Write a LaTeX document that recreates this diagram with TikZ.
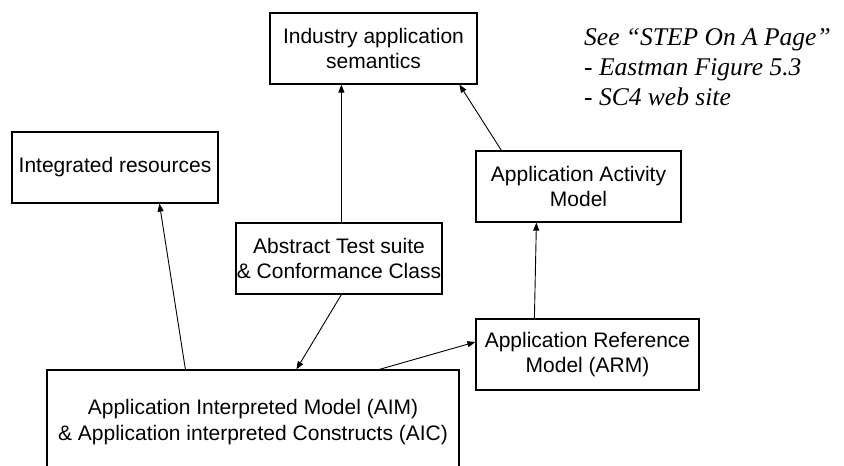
\documentclass[tikz,border=0pt]{standalone}
\usepackage{fontspec}
\setmainfont{Liberation Sans}
\newfontfamily\notefont{Liberation Serif}
\usetikzlibrary{arrows.meta,calc}

\begin{document}
\begin{tikzpicture}[x=1pt,y=-1pt,
box/.style={draw,line width=1.2pt,align=center,inner sep=0pt,
font=\fontsize{21}{25.5}\selectfont},
link/.style={line width=0.9pt,-{Triangle[length=8pt,width=6pt]}}]
\clip (0,0) rectangle (844,466);
\node[box,minimum width=207pt,minimum height=71pt] (ind) at (373.5,48.5) {Industry application\\semantics};
\node[box,minimum width=206pt,minimum height=71pt] (ir) at (115,167.5) {Integrated resources};
\node[box,minimum width=206pt,minimum height=71pt] (ats) at (339,258.5) {Abstract Test suite\\\& Conformance Class};
\node[box,minimum width=205pt,minimum height=71pt] (aam) at (578.5,186.5) {Application Activity\\Model};
\node[box,minimum width=223pt,minimum height=71pt] (arm) at (587.5,354.5) {Application Reference\\Model (ARM)};
\node[box,minimum width=412pt,minimum height=104pt] (aim) at (253,422) {Application Interpreted Model (AIM)\\\& Application interpreted Constructs (AIC)};
% note beside the top box
\node[anchor=north west,align=left,inner sep=0pt,
font=\notefont\itshape\fontsize{25.5}{30}\selectfont] (note) at (584,28) {See “STEP On A Page”\\- Eastman Figure 5.3\\- SC4 web site};

\draw[link] ([xshift=139pt]aim.north west) -- ([xshift=148pt]ir.south west);
\draw[link] ([xshift=106pt]ats.south west) -- ([xshift=250pt]aim.north west);
\draw[link] ([xshift=106pt]ats.north west) -- ([xshift=72pt]ind.south west);
\draw[link] ([xshift=333pt]aim.north west) -- ([yshift=12.5pt]arm.west);
\draw[link] ([xshift=59pt]arm.north west) -- ([xshift=61pt]aam.south west);
\draw[link] ([xshift=26pt]aam.north west) -- ([xshift=190pt]ind.south west);
\end{tikzpicture}
\end{document}
